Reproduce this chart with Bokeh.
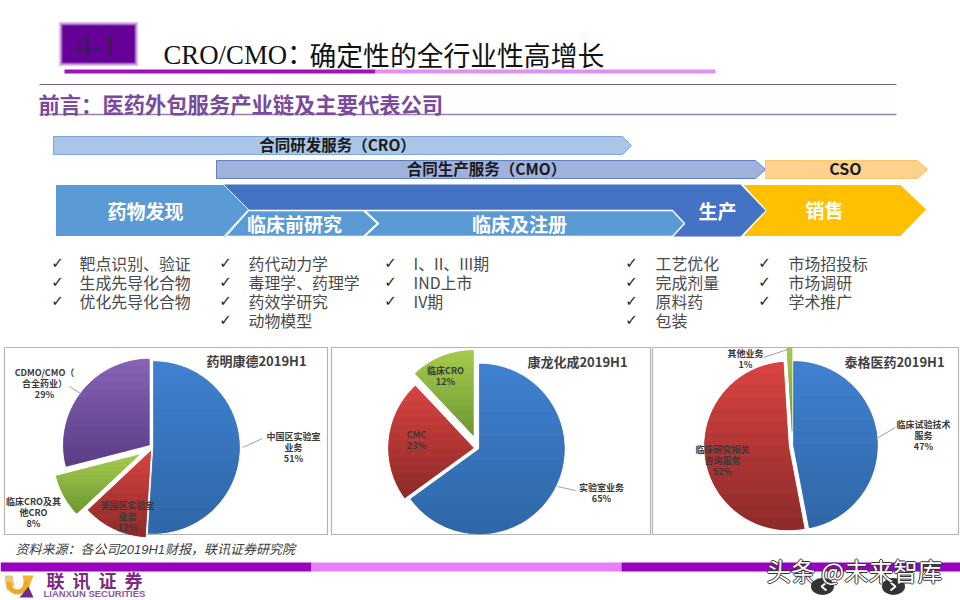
import math
from bokeh.plotting import figure
from bokeh.models import Range1d
from bokeh.core.properties import value
from bokeh.embed import file_html
from bokeh.resources import INLINE

# ---- data ----
pie1_values = [51, 12, 8, 29]
pie2_values = [65, 23, 12]
pie3_values = [47, 52, 1]
pie1_title = "药明康德2019H1"
pie2_title = "康龙化成2019H1"
pie3_title = "泰格医药2019H1"
pie1_names = [["中国区实验室", "业务"], ["美国区实验室", "业务"], ["临床CRO及其", "他CRO"], ["CDMO/CMO（", "合全药业）"]]
pie2_names = [["实验室业务"], ["CMC"], ["临床CRO"]]
pie3_names = [["临床试验技术", "服务"], ["临床研究相关", "咨询服务"], ["其他业务"]]
col1 = ["靶点识别、验证", "生成先导化合物", "优化先导化合物"]
col2 = ["药代动力学", "毒理学、药理学", "药效学研究", "动物模型"]
col3 = ["I、II、III期", "IND上市", "IV期"]
col4 = ["工艺优化", "完成剂量", "原料药", "包装"]
col5 = ["市场招投标", "市场调研", "学术推广"]

# ---- style / layout ----
CJK = "Noto Sans CJK SC"
SERIF = "Liberation Serif, Noto Sans CJK SC"
GRADS = {
    "blue": ("#3f80cf", "#2f68a8"),
    "red": ("#d64340", "#8f2b2a"),
    "green": ("#a4ca4c", "#6f9a33"),
    "purple": ("#8562b4", "#5b3e86"),
}

p = figure(width=960, height=600, output_backend="svg", toolbar_location=None,
           x_range=Range1d(0, 960), y_range=Range1d(600, 0), min_border=0)
p.xaxis.visible = False
p.yaxis.visible = False
p.grid.visible = False
p.outline_line_color = None
p.background_fill_color = "white"


def T(x, y, s, size, color="#404040", font=CJK, style="normal", align="center"):
    p.text([x], [y - size * 0.07], text=[s], text_font=value(font), text_font_size=f"{size}px",
           text_color=color, text_font_style=style, text_align=align,
           text_baseline="middle")


def poly(pts, fill, line=None, lw=1.0, alpha=1.0):
    p.patch([a for a, _ in pts], [b for _, b in pts], fill_color=fill, line_color=line,
            line_width=lw, fill_alpha=alpha)


def clip(pts, y0, y1):
    def cut(pts, keep, inter):
        out = []
        for i in range(len(pts)):
            a, b = pts[i], pts[(i + 1) % len(pts)]
            if keep(a):
                out.append(a)
            if keep(a) != keep(b):
                out.append(inter(a, b))
        return out

    def at(y):
        return lambda a, b: (a[0] + (b[0] - a[0]) * (y - a[1]) / (b[1] - a[1]), y)

    pts = cut(pts, lambda q: q[1] >= y0, at(y0))
    if pts:
        pts = cut(pts, lambda q: q[1] <= y1, at(y1))
    return pts


def mix(c0, c1, t):
    v0 = [int(c0[i:i + 2], 16) for i in (1, 3, 5)]
    v1 = [int(c1[i:i + 2], 16) for i in (1, 3, 5)]
    return "#%02x%02x%02x" % tuple(round(a + (b - a) * t) for a, b in zip(v0, v1))


def pie(cx, cy, r, values, explode, colors):
    total = sum(values)
    start = 0.0
    for v, e, c in zip(values, explode, colors):
        a0 = start / total * 2 * math.pi
        a1 = (start + v) / total * 2 * math.pi
        start += v
        mid = (a0 + a1) / 2
        ox, oy = cx + e * math.sin(mid), cy - e * math.cos(mid)
        c0, c1 = GRADS[c]
        p.wedge([ox], [oy], radius=r, start_angle=math.pi / 2 - a1, end_angle=math.pi / 2 - a0,
                direction="anticlock", fill_color=mix(c0, c1, 0.5), line_color=None)
        n = max(8, int(abs(a1 - a0) * 40))
        pts = [(ox, oy)] + [(ox + r * math.sin(a0 + (a1 - a0) * i / n),
                             oy - r * math.cos(a0 + (a1 - a0) * i / n)) for i in range(n + 1)]
        ys = [q[1] for q in pts]
        lo, hi = min(ys), max(ys)
        bands = 14
        for b in range(bands):
            y0 = lo + (hi - lo) * b / bands
            y1 = lo + (hi - lo) * (b + 1) / bands
            piece = clip(pts, y0, y1)
            if len(piece) >= 3:
                col = mix(c0, c1, b / (bands - 1))
                poly(piece, col, col, 0.4)


def frame(x0, x1, y0, y1):
    p.quad(left=[x0], right=[x1], top=[y0], bottom=[y1], fill_color="white",
           line_color="#b4b4b4", line_width=1.2)


def leader(xs, ys):
    p.line(xs, ys, line_color="#a0a0a0", line_width=1)


def stack(x, y, names, val, size=9, step=11):
    rows = names + [f"{val}%"]
    for i, s in enumerate(rows):
        T(x, y + i * step, s, size, "#3a3a3a", style="bold")


# ---- header ----
for grow, alpha in [(4, .12), (3, .18), (2, .25), (1, .45), (0, 1)]:
    p.quad(left=[62 - grow], right=[134 + grow], top=[25 - grow], bottom=[62 + grow],
           fill_color="#660099", fill_alpha=alpha, line_color=None)
T(96, 47, "4-1", 32, "#33204f", "Liberation Serif", align="center")
p.quad(left=[64], right=[375], top=[69], bottom=[73], fill_color="#a012b8", line_color=None)
p.quad(left=[375], right=[715], top=[69], bottom=[73], fill_color="#e090f0", line_color=None)
T(163, 56, "CRO/CMO：", 26.8, "#111111", SERIF, align="left")
T(309, 56, "确定性的全行业性高增长", 26.8, "#111111", CJK, align="left")
p.line([39, 896], [84, 84], line_color="#7a5a85", line_width=1)
p.line([39, 896], [114, 114], line_color="#9a7ca8", line_width=1.5)
T(38, 104, "前言：医药外包服务产业链及主要代表公司", 21.3, "#7a4a9c", CJK, style="bold", align="left")

# ---- service arrows ----
poly([(53, 136), (622, 136), (631, 145), (622, 154), (53, 154)], "#a9c6e8", "#7ea8d6", 1)
poly([(216, 160), (755, 160), (765, 169), (755, 178), (216, 178)], "#a0b1dd", "#5f80ba", 1)
poly([(765, 160), (917, 160), (927, 169), (917, 178), (765, 178)], "#fdd28e", "#f9c765", 1)
T(337, 145, "合同研发服务（CRO）", 15.5, "#1a1a1a", style="bold")
T(486, 169, "合同生产服务（CMO）", 15.5, "#1a1a1a", style="bold")
T(845, 169, "CSO", 16, "#1a1a1a", style="bold")

# ---- value chain chevrons ----
poly([(223, 184), (740, 184), (765, 210), (740, 236), (223, 236)], "#4472c4")
poly([(55, 184), (223, 184), (248, 209), (223, 236), (55, 236)], "#5b9bd5", "white", 1)
poly([(672, 210), (684, 223), (672, 236), (364, 236), (378, 223), (364, 210)], "#5b9bd5", "white", 1.5)
poly([(248, 210), (363, 210), (377, 223), (363, 236), (225, 236)], "#5b9bd5", "white", 1.5)
poly([(742, 184), (900, 184), (926, 209), (900, 236), (742, 236), (766, 210)], "#ffc000", "white", 1)
T(145, 211, "药物发现", 19, "white", style="bold")
T(294, 224, "临床前研究", 19, "white", style="bold")
T(519, 224, "临床及注册", 19, "white", style="bold")
T(717, 211, "生产", 19, "white", style="bold")
T(824, 210, "销售", 19, "white", style="bold")

# ---- check lists ----
ROWS = [264, 283, 302, 321]
for col, xc, xt in [(col1, 57, 80), (col2, 225, 249), (col3, 390, 414), (col4, 631, 656), (col5, 764, 789)]:
    for row, s in zip(ROWS, col):
        T(xc, row, "✓", 15, "#222222", "DejaVu Sans", style="bold")
        T(xt - 1, row, s, 15.9, "#4a4a4a", align="left")

# ---- pies ----
frame(4, 327, 347, 534)
frame(331, 650, 347, 534)
frame(652, 958, 347, 534)

pie(152, 447, 86, pie1_values, [1, 4, 15, 4], ["blue", "red", "green", "purple"])
pie(478, 448, 85, pie2_values, [1, 5, 14], ["blue", "red", "green"])
pie(792, 445, 84, pie3_values, [1, 4, 14], ["blue", "red", "green"])

T(256, 361, pie1_title, 13, "#404040", style="bold")
T(577, 362, pie2_title, 13, "#404040", style="bold")
T(894, 362, pie3_title, 13, "#404040", style="bold")

leader([242, 262], [447, 438])
leader([69, 80], [386, 393])
leader([557, 575], [486, 490])
leader([763, 787], [357, 349])
leader([876, 895], [438, 427])

stack(293, 437, pie1_names[0], pie1_values[0])
stack(127, 506, pie1_names[1], pie1_values[1])
stack(33, 502, pie1_names[2], pie1_values[2])
stack(44, 373, pie1_names[3], pie1_values[3])
stack(601, 488, pie2_names[0], pie2_values[0])
stack(416, 435, pie2_names[1], pie2_values[1])
stack(445, 371, pie2_names[2], pie2_values[2])
stack(923, 425, pie3_names[0], pie3_values[0])
stack(722, 450, pie3_names[1], pie3_values[1])
stack(745, 354, pie3_names[2], pie3_values[2])

# ---- footer ----
T(15, 550, "资料来源：各公司2019H1财报，联讯证券研究院", 13, "#3c3c3c", "Liberation Sans, Noto Sans CJK SC", style="italic", align="left")
p.quad(left=[0, 311, 621], right=[311, 621, 960], top=[562] * 3, bottom=[571] * 3,
       fill_color=["#9a00c0", "#e580f8", "#9a00c0"], line_color=None)

# logo
poly([(4, 575), (12, 575), (14, 585), (6, 590)], "#e8c77e")
poly([(22, 575), (33, 575), (28, 588), (24, 584)], "#f2b632")
p.annular_wedge([17], [583], inner_radius=6, outer_radius=11, start_angle=math.pi * 0.95,
                end_angle=math.pi * 2.1, direction="anticlock", fill_color="#efaa1e", line_color=None)
poly([(19, 597), (33, 597), (28, 586)], "#6f2c86")
for cx, s in zip([55, 81, 107, 133], "联讯证券"):
    T(cx, 581, s, 18, "#7b2a80", style="bold")
T(94, 593.5, "LIANXUN SECURITIES", 9.5, "#8a5a9a", "Liberation Sans", style="bold")

# nav buttons
p.ellipse([822, 893], [586, 586], width=23, height=17, fill_color="#333333", line_color=None)
p.multi_line([[826, 821, 826], [890, 895, 890]], [[582, 586, 590], [582, 586, 590]],
             line_color="white", line_width=2)

# watermark
for dx, dy in [(-1, 0), (1, 0), (0, -1), (0, 1)]:
    T(766 + dx, 572 + dy, "头条 @未来智库", 24.5, "#333333", align="left")
T(766, 572, "头条 @未来智库", 24.5, "white", align="left")

open("out.html", "w").write(file_html(p, INLINE))
